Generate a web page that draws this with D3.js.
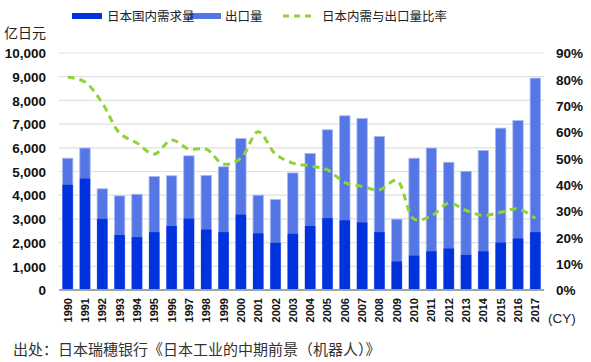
<!DOCTYPE html>
<html>
<head>
<meta charset="utf-8">
<script src="https://cdn.jsdelivr.net/npm/d3@7"></script>
<style>
  body { margin: 0; background: #fff; }
  text { font-family: Arial, "Liberation Sans", "Noto Sans CJK SC", sans-serif; }
</style>
</head>
<body>
<div id="chart"></div>
<script>
// years, values in 亿日元, ratio in %
const years = [1990, 1991, 1992, 1993, 1994, 1995, 1996, 1997, 1998, 1999, 2000, 2001, 2002, 2003,
    2004, 2005, 2006, 2007, 2008, 2009, 2010, 2011, 2012, 2013, 2014, 2015, 2016, 2017];
const domestic = [4440, 4700, 3000, 2320, 2230, 2440, 2700, 3010, 2550, 2440, 3180, 2390, 1990, 2370,
    2700, 3030, 2940, 2850, 2440, 1200, 1450, 1630, 1750, 1480, 1630, 2000, 2170, 2440];
const totals = [5560, 5990, 4270, 3970, 4040, 4790, 4820, 5660, 4830, 5200, 6390, 4000, 3820, 4940,
    5760, 6760, 7350, 7240, 6480, 2990, 5560, 5990, 5390, 5010, 5890, 6830, 7150, 8940];
const ratio = [80.9, 79.0, 71.0, 59.6, 55.8, 51.6, 57.0, 53.5, 53.5, 47.8, 50.0, 60.1, 51.6, 48.2,
    47.1, 45.6, 40.8, 39.3, 38.0, 41.6, 26.9, 28.1, 33.0, 30.2, 28.3, 29.5, 30.8, 27.2];
const leftTicks = [0, 1000, 2000, 3000, 4000, 5000, 6000, 7000, 8000, 9000, 10000];
const rightTicks = [0, 10, 20, 30, 40, 50, 60, 70, 80, 90];
const legendItems = ["日本国内需求量", "出口量", "日本内需与出口量比率"];

const W = 591, H = 362;
const margin = { top: 53, right: 47, bottom: 72, left: 59 };
const plotW = W - margin.left - margin.right,
    plotH = H - margin.top - margin.bottom;

const cDom = "#0033dd", cExp = "#5577e6", cLine = "#8fd435";

const svg = d3.select("#chart").append("svg")
    .attr("width", W)
    .attr("height", H);

const g = svg.append("g")
    .attr("transform", "translate(" + margin.left + "," + margin.top + ")");

let x = d3.scaleBand()
    .domain(years)
    .range([0, plotW])
    .paddingInner(0.4)
    .paddingOuter(0.2);

let y = d3.scaleLinear().domain([0, 10000]).range([plotH, 0]);
let y2 = d3.scaleLinear().domain([0, 90]).range([plotH, 0]);

// gridlines
g.append("g")
    .selectAll("line")
    .data(leftTicks.slice(1))
    .enter().append("line")
    .attr("x1", 0)
    .attr("x2", plotW)
    .attr("y1", d => y(d))
    .attr("y2", d => y(d))
    .attr("stroke", "#dde1e1")
    .attr("stroke-width", 1.2);

// left axis labels
let yAxis = d3.axisLeft(y).tickValues(leftTicks).tickSize(0).tickPadding(13)
    .tickFormat(d3.format(","));
g.append("g").call(yAxis)
    .call(s => s.select(".domain").remove())
    .selectAll("text")
    .attr("fill", "#111")
    .style("font-size", "13.5px")
    .style("font-weight", "bold")
    .attr("dy", "0.35em");

// right axis labels
let y2Axis = d3.axisRight(y2).tickValues(rightTicks).tickSize(0).tickPadding(12)
    .tickFormat(d => d + "%");
g.append("g").attr("transform", "translate(" + plotW + ",0)").call(y2Axis)
    .call(s => s.select(".domain").remove())
    .selectAll("text")
    .attr("fill", "#111")
    .style("font-size", "13.5px")
    .style("font-weight", "bold")
    .attr("dy", "0.35em");

// export bars (full height = total), domestic on top of it
g.append("g").selectAll("rect")
    .data(years)
    .enter().append("rect")
    .attr("x", (d, i) => x(d))
    .attr("y", (d, i) => y(totals[i]))
    .attr("width", x.bandwidth())
    .attr("height", (d, i) => y(0) - y(totals[i]))
    .attr("fill", cExp)
    .attr("stroke", "#a9b9f0")
    .attr("stroke-width", 0.8);

g.append("g").selectAll("rect")
    .data(years)
    .enter().append("rect")
    .attr("x", (d, i) => x(d))
    .attr("y", (d, i) => y(domestic[i]))
    .attr("width", x.bandwidth())
    .attr("height", (d, i) => y(0) - y(domestic[i]))
    .attr("fill", cDom);

// baseline
g.append("line")
    .attr("x1", 0).attr("x2", plotW)
    .attr("y1", plotH).attr("y2", plotH)
    .attr("stroke", "#9aa6a6")
    .attr("stroke-width", 2);

// ratio line
let line = d3.line()
    .x((d, i) => x(years[i]) + x.bandwidth() / 2)
    .y(d => y2(d))
    .curve(d3.curveCatmullRom.alpha(0.5));

g.append("path")
    .datum(ratio)
    .attr("d", line)
    .attr("fill", "none")
    .attr("stroke", cLine)
    .attr("stroke-width", 3)
    .attr("stroke-dasharray", "7,5");

// x labels, rotated
g.append("g").selectAll("text")
    .data(years)
    .enter().append("text")
    .attr("transform", d => "translate(" + (x(d) + x.bandwidth() / 2 + 4) + "," + (plotH + 8) + ") rotate(-90)")
    .attr("text-anchor", "end")
    .style("font-size", "11px")
    .style("font-weight", "bold")
    .attr("fill", "#111")
    .text(d => d);

svg.append("text")
    .attr("x", 548).attr("y", 323)
    .style("font-size", "13.5px")
    .attr("fill", "#222")
    .text("(CY)");

svg.append("text")
    .attr("x", 4).attr("y", 38)
    .style("font-size", "14px")
    .attr("fill", "#222")
    .text("亿日元");

// legend
let lg = svg.append("g");
lg.append("line").attr("x1", 72).attr("x2", 102).attr("y1", 16).attr("y2", 16)
    .attr("stroke", cDom).attr("stroke-width", 6);
lg.append("line").attr("x1", 190).attr("x2", 221).attr("y1", 16).attr("y2", 16)
    .attr("stroke", cExp).attr("stroke-width", 6);
lg.append("line").attr("x1", 283).attr("x2", 316).attr("y1", 16).attr("y2", 16)
    .attr("stroke", cLine).attr("stroke-width", 3).attr("stroke-dasharray", "6,5");
const legendX = [107, 225, 322];
lg.selectAll("text")
    .data(legendItems)
    .enter().append("text")
    .attr("x", (d, i) => legendX[i])
    .attr("y", 21)
    .style("font-size", "12.5px")
    .attr("fill", "#222")
    .text(d => d);

// source
svg.append("text")
    .attr("x", 13).attr("y", 355)
    .style("font-size", "15px")
    .attr("fill", "#333")
    .text("出处：日本瑞穗银行《日本工业的中期前景（机器人）》");
</script>
</body>
</html>
